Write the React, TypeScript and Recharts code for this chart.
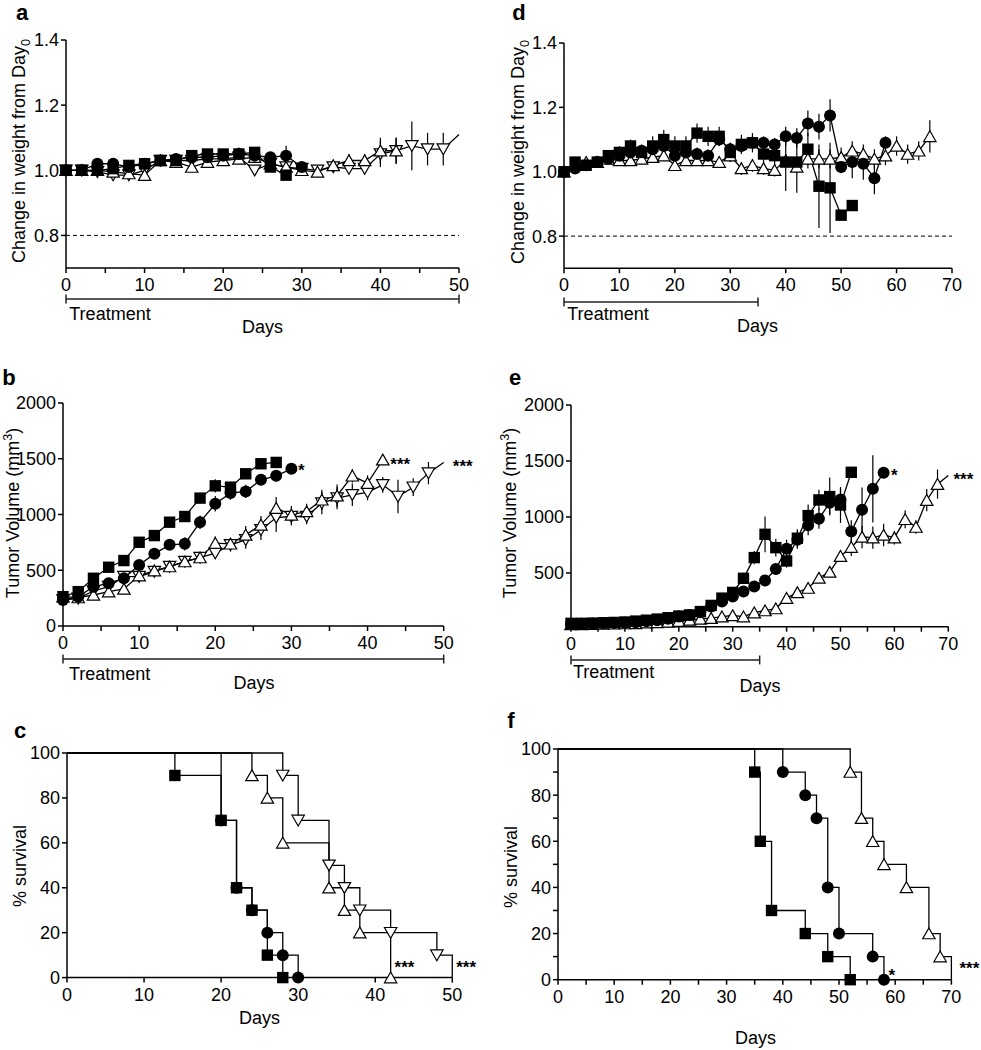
import React from "react";
import { LineChart, Line, XAxis, YAxis, ErrorBar, ReferenceLine, ReferenceDot } from "recharts";

const FONT = '"Liberation Sans", Arial, Helvetica, sans-serif';

// ---- a: weight change, first model (days every 2) ----
const aSqDays = [0, 2, 4, 6, 8, 10, 12, 14, 16, 18, 20, 22, 24, 26, 28];
const aSq = [1.0, 1.0, 1.0, 1.005, 1.015, 1.02, 1.03, 1.03, 1.045, 1.05, 1.05, 1.05, 1.055, 1.01, 0.985];
const aSqErr = [0, 0.005, 0.01, 0.01, 0.01, 0.01, 0.01, 0.01, 0.01, 0.01, 0.01, 0.015, 0.01, 0.01, 0.01];
const aCiDays = [0, 2, 4, 6, 8, 10, 12, 14, 16, 18, 20, 22, 24, 26, 28, 30];
const aCi = [1.0, 1.0, 1.02, 1.02, 1.01, 1.02, 1.03, 1.035, 1.04, 1.04, 1.045, 1.05, 1.045, 1.04, 1.045, 1.01];
const aCiErr = [0, 0.005, 0.01, 0.01, 0.01, 0.01, 0.01, 0.01, 0.01, 0.01, 0.01, 0.02, 0.01, 0.01, 0.03, 0.01];
const aUpDays = [0, 2, 4, 6, 8, 10, 12, 14, 16, 18, 20, 22, 24, 26, 28, 30, 32, 34, 36, 38, 40, 42];
const aUp = [1.0, 1.0, 1.0, 0.995, 0.99, 0.985, 1.03, 1.025, 1.01, 1.025, 1.03, 1.035, 1.04, 1.02, 1.01, 1.0, 0.995, 1.015, 1.03, 1.03, 1.06, 1.06];
const aUpErr = [0, 0.005, 0.01, 0.01, 0.01, 0.01, 0.01, 0.01, 0.01, 0.01, 0.01, 0.01, 0.01, 0.01, 0.01, 0.01, 0.01, 0.01, 0.02, 0.02, 0.04, 0.04];
const aDnDays = [0, 2, 4, 6, 8, 10, 12, 14, 16, 18, 20, 22, 24, 26, 28, 30, 32, 34, 36, 38, 40, 42, 44, 46, 48, 50];
const aDn = [1.0, 1.0, 0.995, 0.985, 0.985, 1.0, 1.03, 1.03, 1.03, 1.035, 1.035, 1.04, 1.0, 1.02, 1.01, 1.005, 1.0, 1.01, 1.005, 1.005, 1.05, 1.06, 1.075, 1.065, 1.065, 1.11];
const aDnErr = [0, 0.005, 0.01, 0.01, 0.01, 0.01, 0.01, 0.01, 0.01, 0.01, 0.01, 0.01, 0.01, 0.01, 0.01, 0.01, 0.01, 0.01, 0.01, 0.01, 0.04, 0.04, 0.075, 0.05, 0.05, 0];

// ---- d: weight change, second model ----
const dSqDays = [0, 2, 4, 6, 8, 10, 12, 14, 16, 18, 20, 22, 24, 26, 28, 30, 32, 34, 36, 38, 40, 42, 44, 46, 48, 50, 52];
const dSq = [1.0, 1.03, 1.02, 1.03, 1.05, 1.06, 1.08, 1.06, 1.08, 1.1, 1.08, 1.08, 1.12, 1.11, 1.11, 1.06, 1.085, 1.09, 1.055, 1.05, 1.03, 1.03, 1.07, 0.955, 0.95, 0.865, 0.895];
const dSqErr = [0, 0.01, 0.01, 0.01, 0.01, 0.02, 0.02, 0.02, 0.03, 0.03, 0.03, 0.03, 0.03, 0.03, 0.03, 0.03, 0.03, 0.03, 0.03, 0.03, 0.09, 0.095, 0.05, 0.13, 0.14, 0.01, 0.01];
const dCiDays = [0, 2, 4, 6, 8, 10, 12, 14, 16, 18, 20, 22, 24, 26, 28, 30, 32, 34, 36, 38, 40, 42, 44, 46, 48, 50, 52, 54, 56, 58];
const dCi = [1.0, 1.01, 1.02, 1.03, 1.04, 1.05, 1.06, 1.065, 1.07, 1.08, 1.05, 1.06, 1.055, 1.05, 1.1, 1.07, 1.08, 1.09, 1.09, 1.085, 1.11, 1.105, 1.15, 1.14, 1.175, 1.015, 1.03, 1.025, 0.98, 1.09];
const dCiErr = [0, 0.01, 0.01, 0.01, 0.01, 0.01, 0.02, 0.02, 0.02, 0.02, 0.02, 0.02, 0.02, 0.02, 0.02, 0.02, 0.02, 0.02, 0.02, 0.02, 0.03, 0.03, 0.04, 0.04, 0.05, 0.02, 0.05, 0.05, 0.05, 0.02];
const dUpDays = [0, 2, 4, 6, 8, 10, 12, 14, 16, 18, 20, 22, 24, 26, 28, 30, 32, 34, 36, 38, 40, 42, 44, 46, 48, 50, 52, 54, 56, 58, 60, 62, 64, 66];
const dUp = [1.0, 1.02, 1.03, 1.03, 1.04, 1.035, 1.035, 1.04, 1.045, 1.05, 1.02, 1.035, 1.035, 1.035, 1.03, 1.05, 1.01, 1.02, 1.01, 1.005, 1.035, 1.015, 1.04, 1.04, 1.04, 1.045, 1.065, 1.055, 1.04, 1.05, 1.08, 1.055, 1.065, 1.11];
const dUpErr = [0, 0.01, 0.01, 0.01, 0.01, 0.01, 0.01, 0.01, 0.01, 0.01, 0.01, 0.01, 0.01, 0.01, 0.01, 0.02, 0.02, 0.02, 0.02, 0.02, 0.02, 0.02, 0.03, 0.03, 0.03, 0.03, 0.03, 0.03, 0.03, 0.03, 0.03, 0.03, 0.03, 0.05];

// ---- b: tumour volume, first model ----
const bSqDays = [0, 2, 4, 6, 8, 10, 12, 14, 16, 18, 20, 22, 24, 26, 28];
const bSq = [263, 308, 428, 527, 587, 751, 811, 931, 982, 1147, 1257, 1245, 1365, 1455, 1467];
const bSqErr = [20, 20, 30, 25, 25, 30, 30, 30, 30, 40, 60, 50, 40, 30, 30];
const bCiDays = [0, 2, 4, 6, 8, 10, 12, 14, 16, 18, 20, 22, 24, 26, 28, 30];
const bCi = [233, 263, 353, 383, 428, 548, 647, 728, 737, 931, 1096, 1192, 1207, 1311, 1347, 1410];
const bCiErr = [20, 20, 25, 25, 25, 30, 30, 40, 60, 60, 70, 60, 60, 40, 50, 20];
const bUpDays = [0, 2, 4, 6, 8, 10, 12, 14, 16, 18, 20, 22, 24, 26, 28, 30, 32, 34, 36, 38, 40, 42];
const bUp = [263, 255, 278, 308, 332, 452, 497, 533, 578, 614, 743, 737, 817, 907, 1057, 997, 1027, 1132, 1168, 1347, 1281, 1491];
const bUpErr = [20, 20, 20, 20, 25, 25, 30, 30, 30, 40, 60, 50, 80, 80, 100, 80, 70, 90, 100, 60, 70, 20];
const bDnDays = [0, 2, 4, 6, 8, 10, 12, 14, 16, 18, 20, 22, 24, 26, 28, 30, 32, 34, 36, 38, 40, 42, 44, 46, 48, 50];
const bDn = [233, 248, 314, 353, 443, 443, 488, 533, 578, 614, 653, 728, 772, 862, 973, 982, 982, 1102, 1147, 1177, 1198, 1266, 1162, 1245, 1371, 1467];
const bDnErr = [20, 20, 20, 20, 25, 25, 30, 30, 30, 40, 50, 60, 80, 90, 130, 80, 70, 100, 100, 100, 70, 70, 150, 80, 100, 0];

// ---- e: tumour volume, second model ----
const eSqDays = [0, 2, 4, 6, 8, 10, 12, 14, 16, 18, 20, 22, 24, 26, 28, 30, 32, 34, 36, 38, 40, 42, 44, 46, 48, 50, 52];
const eSq = [50, 50, 52, 55, 58, 62, 70, 78, 88, 100, 115, 125, 155, 210, 275, 326, 452, 637, 845, 726, 607, 810, 1012, 1152, 1182, 1107, 1399];
const eSqErr = [5, 5, 5, 5, 5, 5, 5, 8, 8, 10, 10, 15, 20, 25, 30, 40, 50, 60, 160, 80, 60, 80, 100, 90, 170, 160, 10];
const eCiDays = [0, 2, 4, 6, 8, 10, 12, 14, 16, 18, 20, 22, 24, 26, 28, 30, 32, 34, 36, 38, 40, 42, 44, 46, 48, 50, 52, 54, 56, 58];
const eCi = [45, 46, 48, 50, 52, 55, 60, 68, 78, 90, 110, 125, 150, 200, 244, 290, 335, 380, 433, 535, 717, 797, 926, 985, 1126, 1155, 871, 1064, 1251, 1394];
const eCiErr = [5, 5, 5, 5, 5, 5, 5, 5, 8, 10, 10, 15, 20, 25, 30, 30, 30, 40, 40, 50, 80, 80, 90, 90, 100, 100, 100, 200, 300, 20];
const eUpDays = [0, 2, 4, 6, 8, 10, 12, 14, 16, 18, 20, 22, 24, 26, 28, 30, 32, 34, 36, 38, 40, 42, 44, 46, 48, 50, 52, 54, 56, 58, 60, 62, 64, 66, 68, 70];
const eUp = [40, 40, 42, 44, 46, 48, 50, 55, 58, 62, 70, 80, 90, 96, 110, 120, 110, 146, 164, 182, 275, 326, 365, 455, 509, 650, 731, 821, 815, 839, 815, 979, 910, 1150, 1293, 1370];
const eUpErr = [3, 3, 3, 3, 3, 3, 3, 4, 4, 5, 5, 6, 8, 10, 10, 10, 10, 15, 15, 20, 25, 30, 30, 40, 40, 50, 80, 100, 100, 100, 60, 80, 60, 100, 130, 0];

// ---- c: survival, first model ----
const cSqDays = [0, 14, 20, 22, 24, 26, 28];
const cSq = [100, 90, 70, 40, 30, 10, 0];
const cCiDays = [0, 20, 22, 24, 26, 28, 30];
const cCi = [100, 70, 40, 30, 20, 10, 0];
const cUpDays = [0, 24, 26, 28, 34, 36, 38, 42];
const cUp = [100, 90, 80, 60, 40, 30, 20, 0];
const cDnDays = [0, 28, 30, 34, 36, 38, 42, 48, 50];
const cDn = [100, 90, 70, 50, 40, 30, 20, 10, 0];

// ---- f: survival, second model ----
const fSqDays = [0, 35, 36, 38, 44, 48, 52];
const fSq = [100, 90, 60, 30, 20, 10, 0];
const fCiDays = [0, 40, 44, 46, 48, 50, 56, 58];
const fCi = [100, 90, 80, 70, 40, 20, 10, 0];
const fUpDays = [0, 52, 54, 56, 58, 62, 66, 68, 70];
const fUp = [100, 90, 70, 60, 50, 40, 20, 10, 0];

// tick values
const ticks50by5 = [0, 5, 10, 15, 20, 25, 30, 35, 40, 45, 50];
const ticks50by10 = [0, 10, 20, 30, 40, 50];
const ticks70by5 = [0, 5, 10, 15, 20, 25, 30, 35, 40, 45, 50, 55, 60, 65, 70];
const ticks70by10 = [0, 10, 20, 30, 40, 50, 60, 70];
const weightTicks = [0.8, 1.0, 1.2, 1.4];
const volTicksB = [0, 500, 1000, 1500, 2000];
const volTicksE = [500, 1000, 1500, 2000];
const survTicksC = [0, 20, 40, 60, 80, 100];
const survTicksF = [0, 10, 20, 30, 40, 50, 60, 70, 80, 90, 100];

const PAD_L = 60;
const PAD_T = 12;
const PAD_R = 42;
const PAD_B = 72;
const X_H = 30;
const TICK_FS = 18;
const AXIS = { stroke: "#000", strokeWidth: 1.5 };

const toRows = (xs: number[], ys: number[], es?: number[]) =>
  xs.map((x, i) => ({ x, y: ys[i], e: es ? es[i] : 0 }));

// tick label renderers (explicit font size)
function xTick(fmt: (v: number) => string) {
  return (p: any) => (
    <text x={p.x} y={p.y + 16} textAnchor="middle" fontSize={TICK_FS} fontFamily={FONT} fill="#000">
      {fmt(p.payload.value)}
    </text>
  );
}
function yTick(fmt: (v: number) => string) {
  return (p: any) => (
    <text x={p.x} y={p.y + 6.4} textAnchor="end" fontSize={TICK_FS} fontFamily={FONT} fill="#000">
      {fmt(p.payload.value)}
    </text>
  );
}

function markerDot(shape: string, n: number, skipFirst: boolean, skipLast: boolean) {
  return (p: any) => {
    const { cx, cy, index } = p;
    const key = `m${index}`;
    if (cx == null || cy == null || (skipFirst && index === 0) || (skipLast && index === n - 1)) return <g key={key} />;
    if (shape === "sq") return <rect key={key} x={cx - 5.7} y={cy - 5.7} width={11.4} height={11.4} fill="#000" />;
    if (shape === "ci") return <circle key={key} cx={cx} cy={cy} r={6} fill="#000" />;
    const s = shape === "up" ? 1 : -1;
    const pts = `${cx},${cy - 5.6 * s} ${cx + 6.2},${cy + 5.2 * s} ${cx - 6.2},${cy + 5.2 * s}`;
    return <polygon key={key} points={pts} fill="#fff" stroke="#000" strokeWidth={1.2} />;
  };
}

function series(id: string, rows: any[], shape: string, opts: any = {}) {
  return (
    <Line
      key={id}
      data={rows}
      dataKey="y"
      type={opts.step ? "stepAfter" : "linear"}
      stroke="#000"
      strokeWidth={1.3}
      dot={markerDot(shape, rows.length, !!opts.skipFirst, !!opts.skipLast)}
      activeDot={false}
      isAnimationActive={false}
      legendType="none"
    >
      {opts.err ? (
        <ErrorBar dataKey="e" width={0} stroke="#000" strokeWidth={1.2} direction="y" isAnimationActive={false} />
      ) : null}
    </Line>
  );
}

// "Treatment" bracket under the x axis, in data units
function bracket(end: number, y: number, half: number) {
  const st = { stroke: "#222", strokeWidth: 1.5 };
  return [
    <ReferenceLine key="tb" segment={[{ x: 0, y }, { x: end, y }]} ifOverflow="visible" {...st} />,
    <ReferenceLine key="tl" segment={[{ x: 0, y: y - half }, { x: 0, y: y + half }]} ifOverflow="visible" {...st} />,
    <ReferenceLine key="tr" segment={[{ x: end, y: y - half }, { x: end, y: y + half }]} ifOverflow="visible" {...st} />,
  ];
}

function star(id: string, x: number, y: number, text: string) {
  return (
    <ReferenceDot
      key={id}
      x={x}
      y={y}
      r={1}
      ifOverflow="visible"
      shape={(p: any) => (
        <text x={p.cx} y={p.cy + 8} textAnchor="middle" fontSize={17} fontWeight="bold" fill="#000" fontFamily={FONT}>
          {text}
        </text>
      )}
    />
  );
}

function Panel({ plot, xMax, xTicks, xEvery, yDomain, yTicks, yFmt, children }: any) {
  const [l, t, r, b] = plot;
  const xFmt = (v: number) => (v % xEvery === 0 ? String(v) : "");
  return (
    <div style={{ position: "absolute", left: l - PAD_L, top: t - PAD_T }}>
      <LineChart
        width={r - l + PAD_L + PAD_R}
        height={b - t + PAD_T + PAD_B}
        margin={{ top: PAD_T, right: PAD_R, left: 0, bottom: PAD_B - X_H }}
      >
        <XAxis
          type="number"
          dataKey="x"
          domain={[0, xMax]}
          ticks={xTicks}
          interval={0}
          height={X_H}
          tickSize={5}
          axisLine={AXIS}
          tickLine={AXIS}
          tick={xTick(xFmt)}
        />
        <YAxis
          type="number"
          domain={yDomain}
          ticks={yTicks}
          interval={0}
          width={PAD_L}
          tickSize={5}
          axisLine={AXIS}
          tickLine={AXIS}
          tick={yTick(yFmt)}
        />
        {children}
      </LineChart>
    </div>
  );
}

function Txt({ x, y, size = 18, bold = false, rot = false, left = false, children }: any) {
  return (
    <div
      style={{
        position: "absolute",
        left: x,
        top: y,
        transform: `translate(${left ? "0" : "-50%"}, -50%)${rot ? " rotate(-90deg)" : ""}`,
        fontSize: size,
        fontWeight: bold ? "bold" : "normal",
        whiteSpace: "nowrap",
        lineHeight: 1,
      }}
    >
      {children}
    </div>
  );
}

const weightTitle = (
  <>
    Change in weight from Day<sub style={{ fontSize: "0.7em" }}>0</sub>
  </>
);
const volTitle = (
  <>
    Tumor Volume (mm<sup style={{ fontSize: "0.7em" }}>3</sup>)
  </>
);

const wFmt = (v: number) => v.toFixed(1);
const vFmt = (v: number) => String(v);
const sFmtC = (v: number) => String(v);
const sFmtF = (v: number) => (v % 20 === 0 ? String(v) : "");

export default function App() {
  return (
    <div
      style={{
        position: "absolute",
        left: 0,
        top: 0,
        width: 981,
        height: 1050,
        overflow: "hidden",
        background: "#fff",
        color: "#000",
        fontFamily: FONT,
      }}
    >
      {/* a */}
      <Panel plot={[66, 40, 459, 268]} xMax={50} xTicks={ticks50by5} xEvery={10} yDomain={[0.7, 1.4]} yTicks={weightTicks} yFmt={wFmt}>
        <ReferenceLine y={0.8} stroke="#000" strokeWidth={1} strokeDasharray="4 3" />
        {bracket(50, 0.605, 0.014)}
        {series("aDn", toRows(aDnDays, aDn, aDnErr), "dn", { err: true, skipLast: true })}
        {series("aUp", toRows(aUpDays, aUp, aUpErr), "up", { err: true })}
        {series("aCi", toRows(aCiDays, aCi, aCiErr), "ci", { err: true })}
        {series("aSq", toRows(aSqDays, aSq, aSqErr), "sq", { err: true })}
      </Panel>

      {/* d */}
      <Panel plot={[564, 42.7, 952, 268]} xMax={70} xTicks={ticks70by10} xEvery={10} yDomain={[0.7, 1.4]} yTicks={weightTicks} yFmt={wFmt}>
        <ReferenceLine y={0.8} stroke="#000" strokeWidth={1} strokeDasharray="4 3" />
        {bracket(35, 0.595, 0.014)}
        {series("dUp", toRows(dUpDays, dUp, dUpErr), "up", { err: true })}
        {series("dCi", toRows(dCiDays, dCi, dCiErr), "ci", { err: true })}
        {series("dSq", toRows(dSqDays, dSq, dSqErr), "sq", { err: true })}
      </Panel>

      {/* b */}
      <Panel plot={[63.3, 403, 444, 626]} xMax={50} xTicks={ticks50by5} xEvery={10} yDomain={[0, 2000]} yTicks={volTicksB} yFmt={vFmt}>
        {bracket(50, -296, 40)}
        {series("bDn", toRows(bDnDays, bDn, bDnErr), "dn", { err: true, skipLast: true })}
        {series("bUp", toRows(bUpDays, bUp, bUpErr), "up", { err: true })}
        {series("bCi", toRows(bCiDays, bCi, bCiErr), "ci", { err: true })}
        {series("bSq", toRows(bSqDays, bSq, bSqErr), "sq", { err: true })}
        {star("bs1", 31.3, 1420, "*")}
        {star("bs2", 44.3, 1473, "***")}
        {star("bs3", 52.5, 1453, "***")}
      </Panel>

      {/* e */}
      <Panel plot={[570.7, 405, 948, 626.7]} xMax={70} xTicks={ticks70by5} xEvery={10} yDomain={[20, 2000]} yTicks={volTicksE} yFmt={vFmt}>
        {bracket(35, -277, 40)}
        {series("eUp", toRows(eUpDays, eUp, eUpErr), "up", { err: true, skipLast: true })}
        {series("eCi", toRows(eCiDays, eCi, eCiErr), "ci", { err: true })}
        {series("eSq", toRows(eSqDays, eSq, eSqErr), "sq", { err: true })}
        {star("es1", 60.0, 1393, "*")}
        {star("es2", 72.8, 1357, "***")}
      </Panel>

      {/* c */}
      <Panel plot={[66.7, 752.7, 452, 977.3]} xMax={50} xTicks={ticks50by10} xEvery={10} yDomain={[0, 100]} yTicks={survTicksC} yFmt={sFmtC}>
        {series("cDn", toRows(cDnDays, cDn), "dn", { step: true, skipFirst: true, skipLast: true })}
        {series("cUp", toRows(cUpDays, cUp), "up", { step: true, skipFirst: true })}
        {series("cCi", toRows(cCiDays, cCi), "ci", { step: true, skipFirst: true })}
        {series("cSq", toRows(cSqDays, cSq), "sq", { step: true, skipFirst: true })}
        {star("cs1", 43.8, 5.5, "***")}
        {star("cs2", 51.8, 5.5, "***")}
      </Panel>

      {/* f */}
      <Panel plot={[558.3, 749.3, 951.7, 980]} xMax={70} xTicks={ticks70by5} xEvery={10} yDomain={[0, 100]} yTicks={survTicksF} yFmt={sFmtF}>
        {series("fUp", toRows(fUpDays, fUp), "up", { step: true, skipFirst: true, skipLast: true })}
        {series("fCi", toRows(fCiDays, fCi), "ci", { step: true, skipFirst: true })}
        {series("fSq", toRows(fSqDays, fSq), "sq", { step: true, skipFirst: true })}
        {star("fs1", 59.4, 3, "*")}
        {star("fs2", 73.2, 6.1, "***")}
      </Panel>

      {/* panel letters */}
      <Txt x={22} y={12.5} size={22} bold>a</Txt>
      <Txt x={519} y={12.5} size={22} bold>d</Txt>
      <Txt x={9} y={377.5} size={22} bold>b</Txt>
      <Txt x={515} y={377.5} size={22} bold>e</Txt>
      <Txt x={20} y={730.5} size={22} bold>c</Txt>
      <Txt x={511} y={720.5} size={22} bold>f</Txt>

      {/* axis titles */}
      <Txt x={20.5} y={150.5} rot>{weightTitle}</Txt>
      <Txt x={519.5} y={151.5} rot>{weightTitle}</Txt>
      <Txt x={11.7} y={513} rot>{volTitle}</Txt>
      <Txt x={509} y={513} rot>{volTitle}</Txt>
      <Txt x={19.7} y={866} rot>% survival</Txt>
      <Txt x={510.8} y={866.7} rot>% survival</Txt>

      <Txt x={262.5} y={327}>Days</Txt>
      <Txt x={757.5} y={326}>Days</Txt>
      <Txt x={254} y={683}>Days</Txt>
      <Txt x={760} y={686}>Days</Txt>
      <Txt x={259.5} y={1018}>Days</Txt>
      <Txt x={755.5} y={1038}>Days</Txt>

      <Txt x={69.3} y={314} left>Treatment</Txt>
      <Txt x={567.3} y={314} left>Treatment</Txt>
      <Txt x={69} y={674} left>Treatment</Txt>
      <Txt x={573} y={671.5} left>Treatment</Txt>
    </div>
  );
}
